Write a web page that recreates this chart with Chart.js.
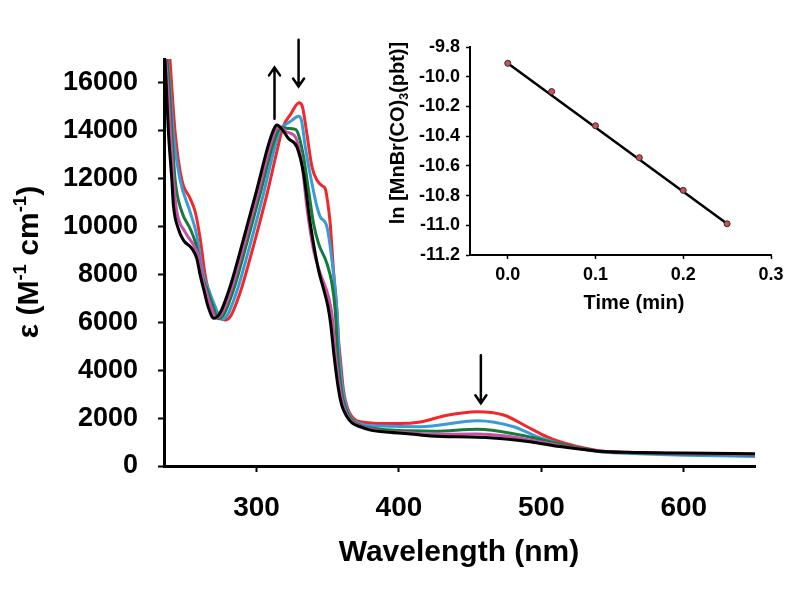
<!DOCTYPE html>
<html>
<head>
<meta charset="utf-8">
<script src="https://cdn.jsdelivr.net/npm/chart.js@4.4.0/dist/chart.umd.min.js"></script>
<style>
  html, body { margin: 0; padding: 0; background: #fff; }
  #wrap { position: relative; width: 789px; height: 593px; }
  #main { position: absolute; left: 0; top: 0; }
  #inset { position: absolute; left: 370px; top: 0; }
</style>
</head>
<body>
<div id="wrap">
  <canvas id="main" width="789" height="593"></canvas>
  <canvas id="inset" width="419" height="330"></canvas>
</div>
<script>
const FONT = '"Liberation Sans", Arial, sans-serif'

// spectra: wavelength (nm) and epsilon (M-1 cm-1)
const redNm = [237.8, 239.3, 242.8, 247.5, 253.3, 256.9, 260.4, 263.9, 266, 270, 274, 278, 282, 286, 290, 298, 307.5, 314.5, 318.5, 324, 329.9, 332, 335.3, 338.9, 342.4, 346, 348.2, 350, 351.7, 354, 356.4, 357.6, 358.7, 361, 364, 367, 370, 372.8, 384.5, 400, 415, 433.7, 454.8, 473.5, 490, 504, 513, 530, 540, 560, 600, 650]
const redEps = [18200, 16880, 13950, 11950, 11180, 10620, 9500, 7970, 7400, 6700, 6250, 6100, 6280, 6830, 7530, 9230, 11400, 13200, 14150, 14700, 15170, 15050, 13890, 12500, 11940, 11700, 11590, 11000, 10130, 8180, 6510, 5260, 4560, 3170, 2400, 2060, 1900, 1850, 1780, 1770, 1840, 2120, 2270, 2130, 1640, 1220, 1015, 750, 640, 560, 500, 480]

const blueNm = [236, 239, 241.5, 246.3, 253.3, 258, 260.5, 262.7, 266, 271, 275.5, 279.5, 283.5, 287.5, 295.5, 305, 312.5, 317, 320, 324, 329.5, 331.5, 334.2, 338.9, 342.4, 344.7, 349.4, 354, 356.4, 358, 360.5, 363, 366, 370, 375, 387, 415, 455, 480.5, 497, 513, 540, 560, 600, 650]
const blueEps = [17800, 16000, 13950, 11950, 10620, 9640, 8700, 7970, 7420, 6650, 6120, 6300, 6850, 7550, 9250, 11400, 13250, 14100, 14250, 14400, 14610, 14450, 13330, 11800, 10830, 10410, 9990, 8050, 6510, 4600, 3170, 2500, 2050, 1850, 1720, 1670, 1640, 1891, 1641, 1224, 930, 600, 530, 450, 400]

const greenNm = [235.5, 238.5, 240.5, 242.8, 247.5, 253.3, 256.9, 259.5, 261.6, 265, 269.5, 273, 277, 281, 285, 293, 303, 311, 315.5, 318, 322, 326, 328.3, 333, 336.5, 340, 343.5, 349.4, 352.9, 355.2, 357, 359.5, 362, 365.5, 369, 374, 387, 408, 425, 455, 485, 513, 540, 560, 600, 650]
const greenEps = [17800, 16000, 13950, 11950, 10620, 9920, 9365, 8700, 7970, 7420, 6650, 6150, 6330, 6880, 7580, 9280, 11480, 13330, 14050, 14150, 14100, 14080, 14000, 12910, 11520, 10130, 9300, 8460, 7630, 6510, 4600, 3170, 2500, 2040, 1820, 1660, 1540, 1470, 1450, 1531, 1294, 918, 620, 560, 500, 460]

const magentaNm = [235, 237.5, 239.5, 241.6, 244, 249.8, 255.7, 259.5, 261.5, 264, 268, 271.5, 275.5, 279.5, 283.5, 291.5, 301.5, 309.5, 313.5, 317, 321, 327.1, 331.8, 335.3, 340, 344.7, 350.5, 353, 355.5, 358.6, 361, 364.5, 368, 373.5, 387, 408, 422, 455, 475, 492, 513, 540, 560, 600, 650]
const magentaEps = [17800, 16000, 13950, 11950, 10620, 9780, 9230, 8700, 7970, 7420, 6650, 6180, 6350, 6900, 7600, 9300, 11500, 13350, 14050, 14150, 13950, 13750, 12640, 10830, 9020, 8050, 7070, 6300, 4600, 3170, 2500, 2040, 1820, 1650, 1460, 1390, 1320, 1336, 1250, 1085, 850, 630, 570, 520, 480]

const blackNm = [235, 236.5, 238.1, 240.5, 241.6, 245, 248.6, 254.5, 258, 260.4, 262.7, 266, 270, 274, 278, 282, 290, 300, 308, 312, 314.3, 318, 322.4, 328.3, 333, 337.7, 343.5, 347, 350, 352, 354.5, 357.6, 360, 363.5, 367, 372.8, 380, 389, 408, 422, 455, 475, 492, 513, 540, 560, 600, 650]
const blackEps = [17800, 16000, 13950, 11950, 10900, 9920, 9435, 9090, 8670, 7970, 7420, 6650, 6170, 6350, 6900, 7600, 9300, 11500, 13350, 14050, 14240, 14050, 13680, 13330, 12220, 10130, 8180, 7400, 6700, 5950, 4560, 3170, 2500, 2060, 1800, 1640, 1500, 1430, 1340, 1250, 1200, 1130, 1015, 810, 620, 570, 540, 510]

const xTicks = [300, 400, 500, 600]
const yTicks = [0, 2000, 4000, 6000, 8000, 10000, 12000, 14000, 16000]

// inset: first-order plot
const timeMin = [0, 0.05, 0.1, 0.15, 0.2, 0.25]
const lnConc = [-9.91, -10.10, -10.33, -10.545, -10.765, -10.99]
const fitTime = [0, 0.25]
const fitLn = [-9.91, -10.99]
const insetXTicks = [0, 0.1, 0.2, 0.3]
const insetYTicks = [-11.2, -11.0, -10.8, -10.6, -10.4, -10.2, -10.0, -9.8]

// arrows drawn on the spectra (nm, start eps, tip eps)
const arrowMarks = [
  { nm: 312.6, from: 14500, to: 16650 },
  { nm: 329.5, from: 17800, to: 15850 },
  { nm: 457.5, from: 4630, to: 2620 }
]

const pts = (xs, ys) => xs.map((x, i) => ({ x: x, y: ys[i] }))

// draw a string made of parts, some super/subscript, centred on (cx, cy)
function drawRich(ctx, parts, cx, cy, size, angle) {
  ctx.save()
  ctx.translate(cx, cy)
  ctx.rotate(angle || 0)
  ctx.fillStyle = '#000'
  ctx.textBaseline = 'alphabetic'
  let total = 0
  parts.forEach(p => {
    const s = p.sup || p.sub ? size * 0.62 : size
    ctx.font = 'bold ' + s + 'px ' + FONT
    p.w = ctx.measureText(p.t).width
    total += p.w
  })
  let x = -total / 2
  const base = size * 0.36
  parts.forEach(p => {
    const s = p.sup || p.sub ? size * 0.62 : size
    ctx.font = 'bold ' + s + 'px ' + FONT
    let y = base
    if (p.sup) y = base - size * 0.38
    if (p.sub) y = base + size * 0.18
    ctx.fillText(p.t, x, y)
    x += p.w
  })
  ctx.restore()
}

const mainDecor = {
  id: 'mainDecor',
  afterDraw(chart) {
    const ctx = chart.ctx
    const xs = chart.scales.x, ys = chart.scales.y
    ctx.save()
    ctx.strokeStyle = '#000'
    ctx.lineWidth = 2.5
    ctx.lineCap = 'round'
    arrowMarks.forEach(a => {
      const px = xs.getPixelForValue(a.nm)
      const y0 = ys.getPixelForValue(a.from)
      const y1 = ys.getPixelForValue(a.to)
      const dir = y1 > y0 ? -1 : 1
      ctx.beginPath()
      ctx.moveTo(px, y0)
      ctx.lineTo(px, y1)
      ctx.moveTo(px - 5.5, y1 + dir * 8)
      ctx.lineTo(px, y1)
      ctx.lineTo(px + 5.5, y1 + dir * 8)
      ctx.stroke()
    })
    ctx.restore()
    drawRich(ctx, [{ t: 'Wavelength (nm)' }], 459, 550, 30, 0)
    drawRich(ctx, [{ t: 'ε (M' }, { t: '-1', sup: true }, { t: ' cm' }, { t: '-1', sup: true }, { t: ')' }], 27, 262, 30, -Math.PI / 2)
  }
}

const insetDecor = {
  id: 'insetDecor',
  afterDraw(chart) {
    const ctx = chart.ctx
    drawRich(ctx, [{ t: 'Time (min)' }], 264, 302, 20, 0)
    drawRich(ctx, [{ t: 'ln [MnBr(CO)' }, { t: '3', sub: true }, { t: '(pbt)]' }], 27, 133, 20, -Math.PI / 2)
  }
}

const tickFont = size => ({ family: FONT, size: size, weight: 'bold' })

new Chart(document.getElementById('main'), {
  type: 'line',
  data: {
    datasets: [
      { label: 'black', data: pts(blackNm, blackEps), borderColor: '#000000', order: 0 },
      { label: 'magenta', data: pts(magentaNm, magentaEps), borderColor: '#cc4ea8', order: 1 },
      { label: 'green', data: pts(greenNm, greenEps), borderColor: '#157a3c', order: 2 },
      { label: 'blue', data: pts(blueNm, blueEps), borderColor: '#3b9bd6', order: 3 },
      { label: 'red', data: pts(redNm, redEps), borderColor: '#f0282a', order: 4 }
    ]
  },
  options: {
    responsive: false,
    animation: false,
    devicePixelRatio: 1,
    events: [],
    layout: { padding: { top: 59, right: 34, left: 0, bottom: 0 } },
    elements: {
      point: { radius: 0 },
      line: { borderWidth: 3, cubicInterpolationMode: 'monotone', fill: false }
    },
    plugins: { legend: { display: false }, tooltip: { enabled: false } },
    scales: {
      x: {
        type: 'linear', min: 235, max: 650,
        afterBuildTicks: s => { s.ticks = xTicks.map(v => ({ value: v })) },
        afterFit: s => { s.height = 127 },
        border: { display: true, color: '#000', width: 3 },
        grid: { drawOnChartArea: false, drawTicks: true, tickLength: 6, tickWidth: 2, tickColor: '#000' },
        ticks: { color: '#000', font: tickFont(28), padding: 19, maxRotation: 0, callback: v => String(v) }
      },
      y: {
        type: 'linear', min: 0, max: 17000,
        afterBuildTicks: s => { s.ticks = yTicks.map(v => ({ value: v })) },
        afterFit: s => { s.width = 164 },
        border: { display: true, color: '#000', width: 3 },
        grid: { drawOnChartArea: false, drawTicks: true, tickLength: 6, tickWidth: 2, tickColor: '#000' },
        ticks: { color: '#000', font: tickFont(27), padding: 20, callback: v => String(v) }
      }
    }
  },
  plugins: [mainDecor]
})

new Chart(document.getElementById('inset'), {
  type: 'line',
  data: {
    datasets: [
      {
        label: 'points', data: pts(timeMin, lnConc), showLine: false, order: 0,
        pointRadius: 3, pointBackgroundColor: '#c9545c', pointBorderColor: '#3a2626', pointBorderWidth: 1
      },
      {
        label: 'fit', data: pts(fitTime, fitLn), order: 1,
        borderColor: '#000', borderWidth: 2.5, pointRadius: 0
      }
    ]
  },
  options: {
    responsive: false,
    animation: false,
    devicePixelRatio: 1,
    events: [],
    layout: { padding: { top: 47, right: 18, left: 0, bottom: 0 } },
    plugins: { legend: { display: false }, tooltip: { enabled: false } },
    scales: {
      x: {
        type: 'linear', min: -0.043, max: 0.3,
        afterBuildTicks: s => { s.ticks = insetXTicks.map(v => ({ value: v })) },
        afterFit: s => { s.height = 75 },
        border: { display: true, color: '#000', width: 2 },
        grid: { drawOnChartArea: false, drawTicks: true, tickLength: 4, tickWidth: 1.5, tickColor: '#000' },
        ticks: { color: '#000', font: tickFont(18), padding: 5, maxRotation: 0, callback: v => v.toFixed(1) }
      },
      y: {
        type: 'linear', min: -11.2, max: -9.8,
        afterBuildTicks: s => { s.ticks = insetYTicks.map(v => ({ value: v })) },
        afterFit: s => { s.width = 100 },
        border: { display: true, color: '#000', width: 2 },
        grid: { drawOnChartArea: false, drawTicks: true, tickLength: 4, tickWidth: 1.5, tickColor: '#000' },
        ticks: { color: '#000', font: tickFont(18), padding: 6, callback: v => v.toFixed(1) }
      }
    }
  },
  plugins: [insetDecor]
})
</script>
</body>
</html>
